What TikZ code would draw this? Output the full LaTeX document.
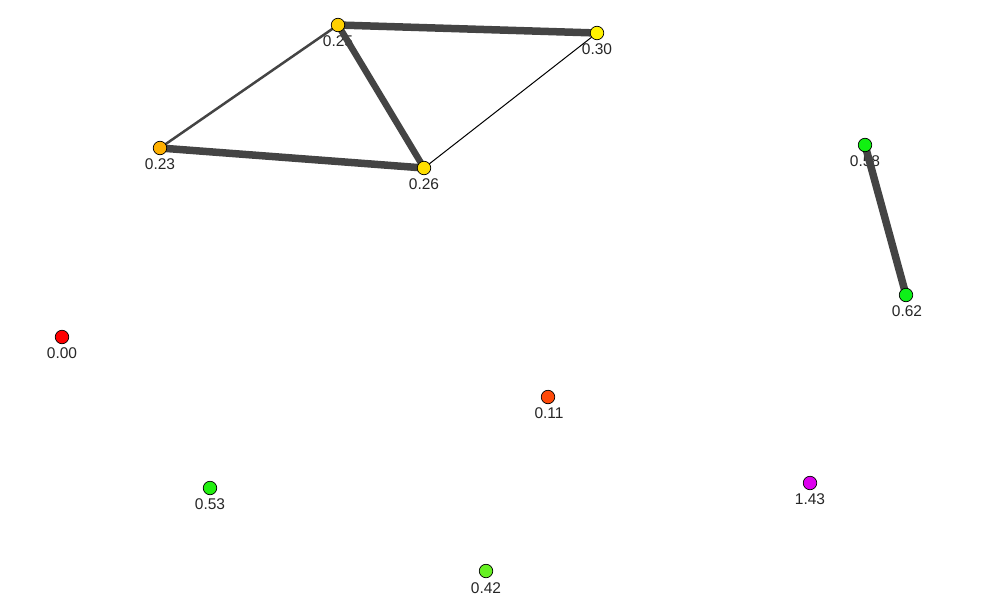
\documentclass[tikz,border=0pt]{standalone}
\usepackage{fontspec}
\setmainfont{Liberation Sans}
\pgfdeclarelayer{labels}
\pgfdeclarelayer{edges}
\pgfsetlayers{labels,edges,main}
\definecolor{edgegray}{HTML}{444444}
\definecolor{cA}{HTML}{FFD000}
\definecolor{cB}{HTML}{FFF200}
\definecolor{cC}{HTML}{FFB000}
\definecolor{cD}{HTML}{FFDE00}
\definecolor{cE}{HTML}{11F011}
\definecolor{cF}{HTML}{0EF018}
\definecolor{cG}{HTML}{FF0000}
\definecolor{cH}{HTML}{FF4A0A}
\definecolor{cI}{HTML}{22F010}
\definecolor{cJ}{HTML}{DD00EE}
\definecolor{cK}{HTML}{66F022}
\begin{document}
\begin{tikzpicture}[x=1pt,y=-1pt,
  vert/.style={circle,draw=black,line width=0.7pt,minimum size=13.5pt,inner sep=0pt},
  vlabel/.style={font=\fontsize{15.5}{17}\selectfont,inner sep=0pt,text=black!85},
  edge/.style={draw=edgegray,line cap=butt}]
\useasboundingbox (0,0) rectangle (981,602);
\node[vert,fill=cA] (A) at (338,25) {};
\node[vert,fill=cB] (B) at (597,33) {};
\node[vert,fill=cC] (C) at (160,148) {};
\node[vert,fill=cD] (D) at (424,168) {};
\node[vert,fill=cE] (E) at (865,145) {};
\node[vert,fill=cF] (F) at (906,295) {};
\node[vert,fill=cG] (G) at (62,337) {};
\node[vert,fill=cH] (H) at (548,397) {};
\node[vert,fill=cI] (I) at (210,488) {};
\node[vert,fill=cJ] (J) at (810,483) {};
\node[vert,fill=cK] (K) at (486,571) {};
\begin{pgfonlayer}{labels}
\node[vlabel] (lA) at (338,41) {0.25};
\node[vlabel] (lB) at (597,49) {0.30};
\node[vlabel] (lC) at (160,164) {0.23};
\node[vlabel] (lD) at (424,184) {0.26};
\node[vlabel] (lE) at (865,161) {0.58};
\node[vlabel] (lF) at (907,311) {0.62};
\node[vlabel] (lG) at (62,353) {0.00};
\node[vlabel] (lH) at (549,413) {0.11};
\node[vlabel] (lI) at (210,504) {0.53};
\node[vlabel] (lJ) at (810,499) {1.43};
\node[vlabel] (lK) at (486,588) {0.42};
\end{pgfonlayer}
\begin{pgfonlayer}{edges}
\draw[edge,line width=7.5pt] (A.center) -- (B.center);
\draw[edge,line width=7.5pt] (C.center) -- (D.center);
\draw[edge,line width=6.5pt] (A.center) -- (D.center);
\draw[edge,line width=7.5pt] (E.center) -- (F.center);
\draw[edge,line width=2.5pt] (A.center) -- (C.center);
\draw[edge,draw=black,line width=1pt] (D.center) -- (B.center);
\end{pgfonlayer}
\end{tikzpicture}
\end{document}
